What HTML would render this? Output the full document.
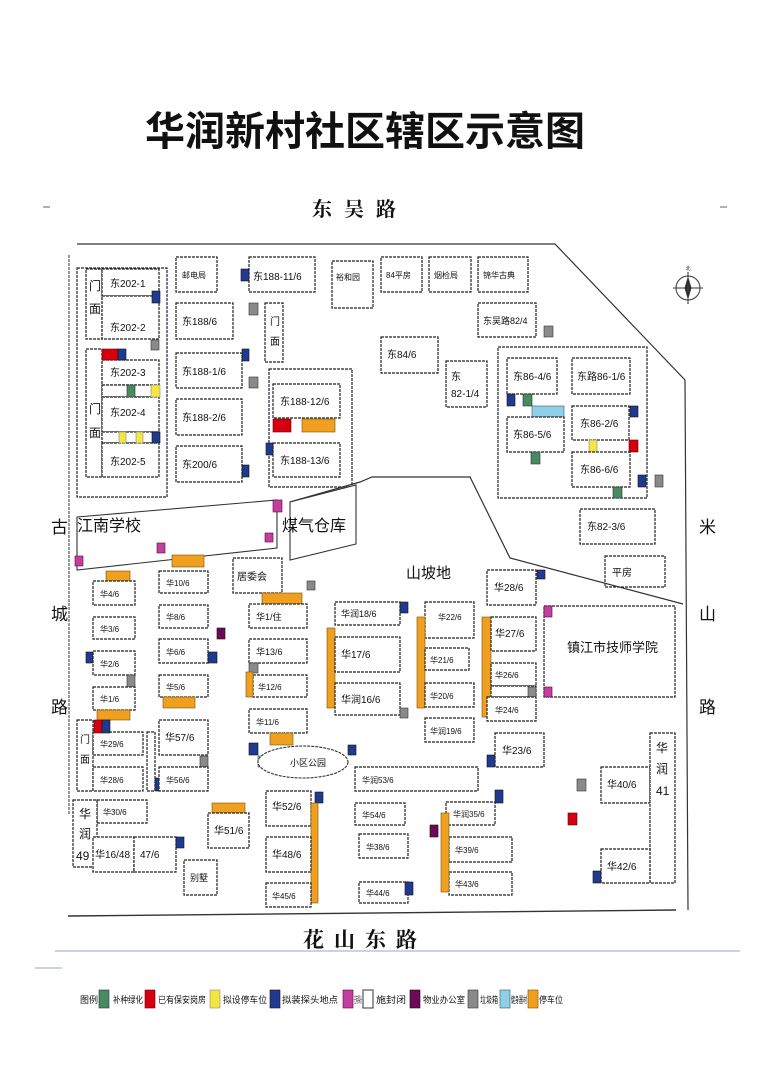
<!DOCTYPE html>
<html><head><meta charset="utf-8"><style>
html,body{margin:0;padding:0;background:#fff}
svg{display:block}
.b{fill:#fff;stroke:#222;stroke-width:1.2;stroke-dasharray:3 1}
.f{fill:none;stroke:#223;stroke-width:1.2;stroke-dasharray:3 1}
text{font-family:"Liberation Sans","Noto Sans CJK SC",sans-serif;fill:#111}
.t{font-size:10px}
.m{font-size:12px}
.bl{fill:#1f3a8f;stroke:#111;stroke-width:.6}
.gr{fill:#8a8a8a;stroke:#333;stroke-width:.6}
.og{fill:#f0a020;stroke:#7a5000;stroke-width:.6}
.rd{fill:#d40010;stroke:#600;stroke-width:.6}
.gn{fill:#4a8a5e;stroke:#234;stroke-width:.6}
.ye{fill:#f2e640;stroke:#888;stroke-width:.6}
.mg{fill:#c040a0;stroke:#603;stroke-width:.6}
.pu{fill:#6a0a5a;stroke:#300;stroke-width:.6}
.lb{fill:#8fd0e8;stroke:#356;stroke-width:.6}
.lg{font-size:9px}
</style></head><body>
<svg width="768" height="1086" viewBox="0 0 768 1086" xmlns="http://www.w3.org/2000/svg">
<text x="365" y="145" text-anchor="middle" style="font-size:40px;font-weight:bold;font-family:'Liberation Sans','Noto Sans CJK SC',sans-serif">华润新村社区辖区示意图</text>
<text x="360" y="216" text-anchor="middle" style="font-size:20px;font-weight:bold;font-family:'Liberation Serif','Noto Serif CJK SC',serif" letter-spacing="12">东吴路</text>
<line x1="43" y1="207" x2="50" y2="207" stroke="#666"/>
<line x1="720" y1="207" x2="727" y2="207" stroke="#666"/>
<polyline points="77,244 555,244 685,380 688,910" fill="none" stroke="#333" stroke-width="1.2"/>
<line x1="69" y1="255" x2="69" y2="815" stroke="#333" stroke-width="1" stroke-dasharray="3 1"/>
<line x1="68" y1="916" x2="676" y2="910" stroke="#333" stroke-width="1.4"/>
<line x1="55" y1="951" x2="740" y2="951" stroke="#b8c4e0" stroke-width="1.5"/>
<line x1="35" y1="968" x2="62" y2="968" stroke="#9aa" stroke-width="1"/>
<g transform="translate(688,288)" stroke="#333" fill="none">
<circle r="12"/><line x1="-15" y1="0" x2="15" y2="0"/><line x1="0" y1="-16" x2="0" y2="16"/>
<polygon points="0,-10 3,0 0,10 -3,0" fill="#333"/><text x="0" y="-18" text-anchor="middle" style="font-size:5px" stroke="none">北</text></g>
<rect class="f" x="77" y="268" width="90" height="229"/>
<rect class="b" x="86" y="269" width="16" height="70"/>
<rect class="b" x="102" y="269" width="57" height="27"/><text class="t" x="110" y="287">东202-1</text>
<rect class="b" x="102" y="296" width="57" height="43"/><text class="t" x="110" y="331">东202-2</text>
<text class="m" x="89" y="290">门</text><text class="m" x="89" y="313">面</text>
<rect class="bl" x="152" y="291" width="8" height="12"/>
<rect class="gr" x="151" y="340" width="8" height="10"/>
<rect class="b" x="86" y="349" width="16" height="128"/>
<text class="m" x="89" y="413">门</text><text class="m" x="89" y="437">面</text>
<rect class="b" x="102" y="360" width="57" height="25"/><text class="t" x="110" y="376">东202-3</text>
<rect class="b" x="102" y="385" width="57" height="12"/>
<rect class="b" x="102" y="397" width="57" height="35"/><text class="t" x="110" y="416">东202-4</text>
<rect class="b" x="102" y="432" width="57" height="11"/>
<rect class="b" x="102" y="443" width="57" height="34"/><text class="t" x="110" y="465">东202-5</text>
<rect class="rd" x="102" y="349" width="16" height="11"/><rect class="bl" x="118" y="349" width="8" height="11"/>
<rect class="gn" x="127" y="385" width="8" height="12"/><rect class="ye" x="151" y="385" width="9" height="12"/>
<rect class="ye" x="119" y="432" width="7" height="11"/><rect class="ye" x="136" y="432" width="7" height="11"/><rect class="bl" x="152" y="432" width="8" height="11"/>
<rect class="b" x="176" y="257" width="41" height="35"/><text class="t" x="182" y="278" style="font-size:8px">邮电局</text>
<rect class="b" x="249" y="257" width="66" height="35"/><text class="t" x="253" y="280">东188-11/6</text>
<rect class="bl" x="241" y="269" width="8" height="12"/>
<rect class="b" x="176" y="303" width="57" height="36"/><text class="t" x="182" y="325">东188/6</text>
<rect class="gr" x="249" y="303" width="9" height="12"/>
<rect class="b" x="265" y="303" width="18" height="59"/><text class="t" x="270" y="325">门</text><text class="t" x="270" y="345">面</text>
<rect class="b" x="176" y="353" width="66" height="35"/><text class="t" x="182" y="375">东188-1/6</text>
<rect class="bl" x="242" y="349" width="7" height="12"/><rect class="gr" x="249" y="377" width="9" height="11"/>
<rect class="b" x="176" y="399" width="66" height="36"/><text class="t" x="182" y="421">东188-2/6</text>
<rect class="b" x="176" y="446" width="66" height="36"/><text class="t" x="182" y="468">东200/6</text>
<rect class="bl" x="242" y="465" width="7" height="12"/>
<rect class="f" x="269" y="369" width="83" height="118"/>
<rect class="b" x="273" y="384" width="67" height="34"/><text class="t" x="280" y="405">东188-12/6</text>
<rect class="rd" x="273" y="419" width="18" height="13"/><rect class="og" x="302" y="419" width="33" height="13"/>
<rect class="b" x="273" y="443" width="67" height="34"/><text class="t" x="280" y="464">东188-13/6</text>
<rect class="bl" x="266" y="443" width="7" height="12"/>
<rect class="b" x="332" y="261" width="41" height="47"/><text class="t" x="336" y="280" style="font-size:8px">裕和园</text>
<rect class="b" x="381" y="257" width="41" height="35"/><text class="t" x="386" y="278" style="font-size:8px">84平房</text>
<rect class="b" x="429" y="257" width="42" height="35"/><text class="t" x="434" y="278" style="font-size:8px">烟检局</text>
<rect class="b" x="478" y="257" width="50" height="35"/><text class="t" x="483" y="278" style="font-size:8px">锦华古典</text>
<rect class="b" x="478" y="303" width="58" height="34"/><text class="t" x="483" y="324" style="font-size:9px">东吴路82/4</text>
<rect class="gr" x="544" y="326" width="9" height="11"/>
<rect class="b" x="381" y="337" width="57" height="36"/><text class="t" x="387" y="358">东84/6</text>
<rect class="b" x="446" y="361" width="41" height="46"/><text class="t" x="451" y="380">东</text><text class="t" x="451" y="397">82-1/4</text>
<rect class="f" x="498" y="347" width="149" height="151"/>
<rect class="b" x="507" y="358" width="50" height="36"/><text class="t" x="513" y="380">东86-4/6</text>
<rect class="b" x="572" y="358" width="58" height="36"/><text class="t" x="577" y="380">东路86-1/6</text>
<rect class="bl" x="507" y="394" width="8" height="12"/><rect class="gn" x="523" y="394" width="9" height="12"/>
<rect class="lb" x="532" y="406" width="32" height="11"/>
<rect class="b" x="507" y="417" width="57" height="35"/><text class="t" x="513" y="438">东86-5/6</text>
<rect class="gn" x="531" y="452" width="9" height="12"/>
<rect class="b" x="572" y="406" width="57" height="34"/><text class="t" x="580" y="427">东86-2/6</text>
<rect class="bl" x="630" y="406" width="8" height="11"/>
<rect class="ye" x="589" y="440" width="8" height="12"/><rect class="rd" x="629" y="440" width="9" height="12"/>
<rect class="b" x="572" y="452" width="58" height="35"/><text class="t" x="580" y="473">东86-6/6</text>
<rect class="gn" x="613" y="487" width="9" height="11"/>
<rect class="bl" x="638" y="475" width="8" height="12"/><rect class="gr" x="655" y="475" width="8" height="12"/>
<rect class="b" x="580" y="509" width="75" height="35"/><text class="t" x="587" y="530">东82-3/6</text>
<rect class="b" x="605" y="556" width="60" height="31"/><text class="t" x="612" y="576">平房</text>
<polyline points="290,502 360,482 372,477 470,477 510,558 683,604" fill="none" stroke="#333" stroke-width="1.2"/>
<polygon points="290,502 356,485 356,544 290,560" fill="#fff" stroke="#333" stroke-width="1.1"/>
<text x="282" y="531" style="font-size:16px">煤气仓库</text>
<polygon points="77,517 277,500 277,548 77,570" fill="#fff" stroke="#333" stroke-width="1.1"/>
<text x="77" y="531" style="font-size:16px">江南学校</text>
<rect class="mg" x="75" y="556" width="8" height="10"/><rect class="mg" x="157" y="543" width="8" height="10"/>
<rect class="mg" x="273" y="500" width="9" height="12"/><rect class="mg" x="265" y="533" width="8" height="9"/>
<text x="406" y="578" style="font-size:15px">山坡地</text>
<text x="51" y="533" style="font-size:17px">古</text>
<text x="51" y="620" style="font-size:17px">城</text>
<text x="51" y="713" style="font-size:17px">路</text>
<text x="699" y="533" style="font-size:17px">米</text>
<text x="699" y="620" style="font-size:17px">山</text>
<text x="699" y="713" style="font-size:17px">路</text>
<rect class="og" x="172" y="555" width="32" height="12"/>
<rect class="og" x="106" y="571" width="24" height="10"/>
<rect class="b" x="93" y="581" width="42" height="24"/><text class="t" x="100" y="597" style="font-size:8px">华4/6</text>
<rect class="b" x="159" y="571" width="49" height="22"/><text class="t" x="166" y="586" style="font-size:8px">华10/6</text>
<rect class="b" x="233" y="558" width="49" height="35"/><text class="t" x="237" y="580">居委会</text>
<rect class="gr" x="307" y="581" width="8" height="9"/>
<rect class="og" x="262" y="593" width="40" height="11"/>
<rect class="b" x="249" y="604" width="58" height="24"/><text class="t" x="256" y="620" style="font-size:9px">华1/住</text>
<rect class="b" x="93" y="617" width="42" height="22"/><text class="t" x="100" y="632" style="font-size:8px">华3/6</text>
<rect class="b" x="159" y="605" width="49" height="23"/><text class="t" x="166" y="620" style="font-size:8px">华8/6</text>
<rect class="pu" x="217" y="628" width="8" height="11"/>
<rect class="b" x="249" y="639" width="58" height="24"/><text class="t" x="256" y="655" style="font-size:9px">华13/6</text>
<rect class="b" x="159" y="639" width="49" height="24"/><text class="t" x="166" y="655" style="font-size:8px">华6/6</text>
<rect class="bl" x="208" y="652" width="9" height="11"/><rect class="bl" x="86" y="652" width="7" height="11"/>
<rect class="b" x="93" y="651" width="42" height="24"/><text class="t" x="100" y="667" style="font-size:8px">华2/6</text>
<rect class="gr" x="127" y="675" width="8" height="12"/>
<rect class="gr" x="249" y="663" width="9" height="10"/>
<rect class="b" x="253" y="675" width="54" height="22"/><text class="t" x="258" y="690" style="font-size:8px">华12/6</text>
<rect class="og" x="246" y="672" width="7" height="25"/>
<rect class="b" x="93" y="687" width="42" height="23"/><text class="t" x="100" y="702" style="font-size:8px">华1/6</text>
<rect class="b" x="159" y="675" width="49" height="22"/><text class="t" x="166" y="690" style="font-size:8px">华5/6</text>
<rect class="og" x="163" y="697" width="32" height="11"/>
<rect class="b" x="249" y="709" width="58" height="24"/><text class="t" x="256" y="725" style="font-size:8px">华11/6</text>
<rect class="og" x="270" y="733" width="23" height="12"/>
<rect class="og" x="97" y="710" width="33" height="10"/>
<rect class="b" x="77" y="720" width="16" height="71"/><text class="t" x="80" y="743">门</text><text class="t" x="80" y="763">面</text>
<rect class="b" x="93" y="732" width="50" height="23"/><text class="t" x="100" y="747" style="font-size:8px">华29/6</text>
<rect class="b" x="93" y="767" width="50" height="24"/><text class="t" x="100" y="783" style="font-size:8px">华28/6</text>
<rect class="rd" x="94" y="720" width="8" height="13"/><rect class="bl" x="102" y="720" width="8" height="13"/>
<rect class="b" x="147" y="732" width="8" height="59"/><rect class="bl" x="155" y="778" width="5" height="13"/>
<rect class="b" x="159" y="720" width="49" height="35"/><text class="t" x="165" y="741">华57/6</text>
<rect class="gr" x="200" y="756" width="8" height="11"/>
<rect class="b" x="159" y="767" width="49" height="24"/><text class="t" x="166" y="783" style="font-size:8px">华56/6</text>
<rect class="bl" x="249" y="743" width="9" height="12"/><rect class="lb" x="258" y="756" width="16" height="11"/>
<ellipse cx="303" cy="762" rx="45" ry="16" fill="#fff" stroke="#333" stroke-width="1.1" stroke-dasharray="3 1"/>
<text class="t" x="290" y="766" style="font-size:9px">小区公园</text>
<rect class="bl" x="348" y="745" width="8" height="10"/>
<rect class="b" x="97" y="800" width="50" height="23"/><text class="t" x="103" y="815" style="font-size:8px">华30/6</text>
<rect class="b" x="73" y="800" width="24" height="67"/><text class="m" x="79" y="818">华</text><text class="m" x="79" y="838">润</text><text class="m" x="76" y="860">49</text>
<rect class="b" x="93" y="837" width="41" height="35"/><text class="t" x="95" y="858">华16/48</text>
<rect class="b" x="134" y="837" width="42" height="35"/><text class="t" x="140" y="858">47/6</text>
<rect class="bl" x="176" y="837" width="8" height="11"/>
<rect class="b" x="184" y="860" width="33" height="35"/><text class="t" x="190" y="881" style="font-size:9px">别墅</text>
<rect class="og" x="212" y="803" width="33" height="10"/>
<rect class="b" x="208" y="813" width="41" height="35"/><text class="t" x="214" y="834">华51/6</text>
<rect class="b" x="266" y="791" width="45" height="35"/><text class="t" x="272" y="810">华52/6</text>
<rect class="bl" x="315" y="792" width="8" height="11"/><rect class="og" x="311" y="803" width="7" height="100"/>
<rect class="b" x="266" y="837" width="45" height="35"/><text class="t" x="272" y="858">华48/6</text>
<rect class="b" x="266" y="883" width="45" height="24"/><text class="t" x="272" y="899" style="font-size:8px">华45/6</text>
<rect class="b" x="335" y="602" width="65" height="23"/><text class="t" x="341" y="617" style="font-size:9px">华润18/6</text>
<rect class="bl" x="400" y="602" width="8" height="11"/>
<rect class="og" x="327" y="628" width="8" height="80"/>
<rect class="b" x="335" y="637" width="65" height="35"/><text class="t" x="341" y="658">华17/6</text>
<rect class="b" x="335" y="683" width="65" height="32"/><text class="t" x="341" y="703">华润16/6</text>
<rect class="gr" x="400" y="708" width="8" height="10"/>
<rect class="b" x="425" y="602" width="49" height="36"/><text class="t" x="438" y="620" style="font-size:8px">华22/6</text>
<rect class="og" x="417" y="617" width="8" height="91"/>
<rect class="b" x="425" y="648" width="44" height="22"/><text class="t" x="430" y="663" style="font-size:8px">华21/6</text>
<rect class="b" x="425" y="683" width="49" height="24"/><text class="t" x="430" y="699" style="font-size:8px">华20/6</text>
<rect class="b" x="425" y="718" width="49" height="24"/><text class="t" x="430" y="734" style="font-size:8px">华润19/6</text>
<rect class="b" x="487" y="570" width="49" height="35"/><text class="t" x="494" y="591">华28/6</text>
<rect class="bl" x="537" y="570" width="8" height="9"/>
<rect class="og" x="482" y="617" width="9" height="100"/>
<rect class="b" x="491" y="617" width="45" height="34"/><text class="t" x="495" y="637">华27/6</text>
<rect class="b" x="491" y="663" width="45" height="23"/><text class="t" x="495" y="678" style="font-size:8px">华26/6</text>
<rect class="b" x="491" y="686" width="45" height="11"/><rect class="gr" x="528" y="687" width="8" height="10"/>
<rect class="b" x="487" y="697" width="49" height="24"/><text class="t" x="495" y="713" style="font-size:8px">华24/6</text>
<rect class="b" x="544" y="606" width="131" height="91"/><text x="567" y="652" style="font-size:13px">镇江市技师学院</text>
<rect class="mg" x="544" y="606" width="8" height="11"/><rect class="mg" x="544" y="687" width="8" height="10"/>
<rect class="b" x="495" y="733" width="49" height="34"/><text class="t" x="502" y="754">华23/6</text>
<rect class="bl" x="487" y="755" width="8" height="12"/>
<rect class="b" x="355" y="767" width="123" height="24"/><text class="t" x="362" y="783" style="font-size:8px">华润53/6</text>
<rect class="b" x="355" y="803" width="50" height="22"/><text class="t" x="362" y="818" style="font-size:8px">华54/6</text>
<rect class="b" x="359" y="834" width="49" height="24"/><text class="t" x="366" y="850" style="font-size:8px">华38/6</text>
<rect class="b" x="359" y="882" width="49" height="21"/><text class="t" x="366" y="896" style="font-size:8px">华44/6</text>
<rect class="bl" x="405" y="882" width="8" height="13"/>
<rect class="b" x="446" y="802" width="49" height="23"/><text class="t" x="453" y="817" style="font-size:8px">华润35/6</text>
<rect class="bl" x="495" y="790" width="8" height="13"/>
<rect class="pu" x="430" y="825" width="8" height="12"/>
<rect class="b" x="449" y="837" width="63" height="25"/><text class="t" x="455" y="853" style="font-size:8px">华39/6</text>
<rect class="b" x="449" y="872" width="63" height="23"/><text class="t" x="455" y="887" style="font-size:8px">华43/6</text>
<rect class="og" x="441" y="813" width="8" height="79"/>
<rect class="gr" x="577" y="779" width="9" height="12"/><rect class="rd" x="568" y="813" width="9" height="12"/>
<rect class="b" x="601" y="767" width="49" height="36"/><text class="t" x="607" y="788">华40/6</text>
<rect class="b" x="650" y="733" width="25" height="150"/><text class="m" x="656" y="752">华</text><text class="m" x="656" y="773">润</text><text class="m" x="656" y="795">41</text>
<rect class="b" x="601" y="849" width="49" height="34"/><text class="t" x="607" y="870">华42/6</text>
<rect class="bl" x="593" y="871" width="8" height="12"/>
<text x="365" y="947" text-anchor="middle" style="font-size:21px;font-weight:bold;font-family:'Liberation Serif','Noto Serif CJK SC',serif" letter-spacing="10">花山东路</text>
<text class="lg" x="80" y="1003">图例:</text>
<rect class="gn" x="99" y="990" width="10" height="18"/><text class="lg" x="113" y="1003" textLength="30" lengthAdjust="spacingAndGlyphs">补种绿化</text>
<rect class="rd" x="145" y="990" width="10" height="18"/><text class="lg" x="158" y="1003" textLength="48" lengthAdjust="spacingAndGlyphs">已有保安岗房</text>
<rect class="ye" x="210" y="990" width="10" height="18"/><text class="lg" x="223" y="1003" textLength="44" lengthAdjust="spacingAndGlyphs">拟设停车位</text>
<rect class="bl" x="270" y="990" width="10" height="18"/><text class="lg" x="282" y="1003" textLength="56" lengthAdjust="spacingAndGlyphs">拟装探头地点</text>
<rect class="mg" x="343" y="990" width="10" height="18"/><text class="lg" x="354" y="1003" textLength="8" lengthAdjust="spacingAndGlyphs">已有探头</text>
<rect x="363" y="990" width="10" height="18" fill="#fff" stroke="#333"/><text class="lg" x="376" y="1003" textLength="30" lengthAdjust="spacingAndGlyphs">施封闭</text>
<rect class="pu" x="410" y="990" width="10" height="18"/><text class="lg" x="423" y="1003" textLength="42" lengthAdjust="spacingAndGlyphs">物业办公室</text>
<rect class="gr" x="468" y="990" width="10" height="18"/><text class="lg" x="480" y="1003" textLength="18" lengthAdjust="spacingAndGlyphs">垃圾箱</text>
<rect class="lb" x="500" y="990" width="10" height="18"/><text class="lg" x="511" y="1003" textLength="16" lengthAdjust="spacingAndGlyphs">健身器材</text>
<rect class="og" x="528" y="990" width="10" height="18"/><text class="lg" x="539" y="1003" textLength="24" lengthAdjust="spacingAndGlyphs">停车位</text>
</svg>
</body></html>
